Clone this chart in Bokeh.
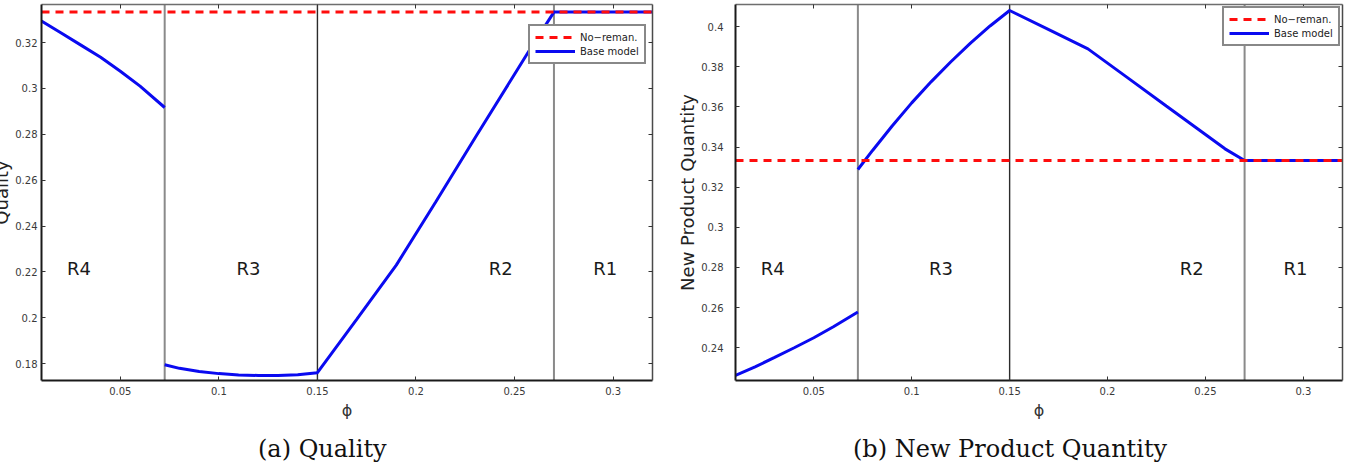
from bokeh.plotting import figure
from bokeh.models import (Range1d, FixedTicker, LinearAxis, Span, Legend,
                          LegendItem, Div)
from bokeh.layouts import row, column
from bokeh.core.properties import value
from bokeh.embed import file_html
from bokeh.resources import INLINE

# ---- data -------------------------------------------------------------
# phi grid, one list per regime (R4 | R3 | R2 | R1)
phi_r4 = [0.01, 0.02, 0.03, 0.04, 0.05, 0.06, 0.0725]
phi_r3 = [0.0725, 0.08, 0.09, 0.10, 0.11, 0.12, 0.13, 0.14, 0.15]
phi_r2 = [0.15, 0.17, 0.19, 0.21, 0.23, 0.25, 0.26, 0.27]
phi_r1 = [0.27, 0.32]

# optimal quality, base model
quality_r4 = [0.3294, 0.3242, 0.3189, 0.3136, 0.3075, 0.3010, 0.2917]
quality_r3 = [0.1796, 0.1780, 0.1766, 0.1757, 0.1751, 0.1749, 0.1749, 0.1752, 0.1761]
quality_r2 = [0.1761, 0.1995, 0.2230, 0.2505, 0.2785, 0.3062, 0.3200, 0.3333]
quality_r1 = [0.3333, 0.3333]

# new product quantity, base model
newqty_r4 = [0.2262, 0.2305, 0.2352, 0.2400, 0.2450, 0.2505, 0.2578]
newqty_r3 = [0.3288, 0.3383, 0.3505, 0.3620, 0.3726, 0.3825, 0.3918, 0.4003, 0.4080]
newqty_r2 = [0.4080, 0.3985, 0.3889, 0.3747, 0.3604, 0.3462, 0.3391, 0.3333]
newqty_r1 = [0.3333, 0.3333]

# no-remanufacturing benchmark (constant in phi)
phi_noreman = [0.01, 0.32]
quality_noreman = [0.3333, 0.3333]
newqty_noreman = [0.3333, 0.3333]

# regime thresholds and labels
thresholds = [0.0725, 0.15, 0.27]
threshold_colors = ["#8a8a8a", "#2b2b2b", "#8a8a8a"]
threshold_widths = [2, 1.4, 2]
regime_names = ["R4", "R3", "R2", "R1"]
regime_label_x = [0.029, 0.115, 0.243, 0.296]

x_ticks = [0.05, 0.10, 0.15, 0.20, 0.25, 0.30]
x_tick_labels = ["0.05", "0.1", "0.15", "0.2", "0.25", "0.3"]
quality_ticks = [0.18, 0.20, 0.22, 0.24, 0.26, 0.28, 0.30, 0.32]
quality_tick_labels = ["0.18", "0.2", "0.22", "0.24", "0.26", "0.28", "0.3", "0.32"]
newqty_ticks = [0.24, 0.26, 0.28, 0.30, 0.32, 0.34, 0.36, 0.38, 0.40]
newqty_tick_labels = ["0.24", "0.26", "0.28", "0.3", "0.32", "0.34", "0.36", "0.38", "0.4"]

SANS = "DejaVu Sans"
SERIF = "DejaVu Serif"
BLUE = "#0a0af0"
RED = "#ff0d0d"
FIG_W, FIG_H, CAP_H = 674, 436, 26
BLEED = 14  # the left panel's y title runs past the page edge by this much


def joined(*parts):
    """Concatenate regime segments, breaking the line at the jump after R4."""
    xs, ys = [], []
    for i, (px, py) in enumerate(parts):
        if i == 1:
            xs.append(float("nan"))
            ys.append(float("nan"))
        xs.extend(px)
        ys.extend(py)
    return xs, ys


def style_axis(ax, ticks, labels, show_labels, line_color, line_width, standoff):
    ax.ticker = FixedTicker(ticks=ticks)
    ax.major_label_overrides = dict(zip(ticks, labels))
    ax.major_tick_in = 4
    ax.major_tick_out = 0
    ax.minor_tick_in = 0
    ax.minor_tick_out = 0
    ax.major_tick_line_color = "#333333"
    ax.major_tick_line_width = 1
    ax.axis_line_color = line_color
    ax.axis_line_width = line_width
    ax.major_label_text_font = SANS
    ax.major_label_text_font_size = "10px"
    if show_labels:
        ax.major_label_text_color = "#3a3a3a"
        ax.major_label_standoff = standoff
    else:
        ax.major_label_text_color = None
        ax.major_label_standoff = 0


def panel(y_range, y_ticks, y_labels, base_xy, noreman_y, region_y,
          border_left, ylabel, legend_y, bleed=0):
    p = figure(width=FIG_W + bleed, height=FIG_H, output_backend="svg",
               toolbar_location=None,
               x_range=Range1d(0.01, 0.32), y_range=Range1d(*y_range),
               min_border_left=border_left + bleed,
               min_border_right=FIG_W - border_left - 611,
               min_border_top=4, min_border_bottom=FIG_H - 380,
               background_fill_color="white", border_fill_color="white",
               margin=(0, 0, 0, -bleed))
    p.outline_line_color = None
    p.xgrid.visible = False
    p.ygrid.visible = False

    # frame: bottom/left axes carry labels, top/right only inward ticks
    style_axis(p.xaxis[0], x_ticks, x_tick_labels, True, "#1a1a1a", 2, 6)
    p.xaxis[0].axis_label = "\u03d5"
    p.xaxis[0].axis_label_text_font = SANS
    p.xaxis[0].axis_label_text_font_style = "normal"
    p.xaxis[0].axis_label_text_font_size = "16px"
    p.xaxis[0].axis_label_text_color = "#333333"
    p.xaxis[0].axis_label_standoff = 3

    text, size, label_standoff, title_standoff = ylabel
    style_axis(p.yaxis[0], y_ticks, y_labels, True, "#1a1a1a", 2, label_standoff)
    p.yaxis[0].axis_label = text
    p.yaxis[0].axis_label_text_font = SANS
    p.yaxis[0].axis_label_text_font_style = "normal"
    p.yaxis[0].axis_label_text_font_size = size
    p.yaxis[0].axis_label_text_color = "#222222"
    p.yaxis[0].axis_label_standoff = title_standoff

    top = LinearAxis()
    style_axis(top, x_ticks, x_tick_labels, False, "#6e6e6e", 1.5, 0)
    p.add_layout(top, "above")
    right = LinearAxis()
    style_axis(right, y_ticks, y_labels, False, "#4a4a4a", 1.5, 0)
    p.add_layout(right, "right")

    # regime boundaries
    for loc, col, w in zip(thresholds, threshold_colors, threshold_widths):
        p.add_layout(Span(location=loc, dimension="height", line_color=col,
                          line_width=w, level="underlay"))

    xs, ys = base_xy
    base = p.line(xs, ys, line_color=BLUE, line_width=3)
    noreman = p.line(phi_noreman, noreman_y, line_color=RED, line_width=3,
                     line_dash="8 6")

    p.text(x=regime_label_x, y=[region_y] * 4, text=regime_names,
           text_font=value(SANS), text_font_size="18px", text_color="#1a1a1a",
           text_align="center", text_baseline="middle")

    legend = Legend(items=[LegendItem(label="No\u2212reman.", renderers=[noreman]),
                           LegendItem(label="Base model", renderers=[base])],
                    location=(487, legend_y), orientation="vertical",
                    label_text_font=SANS, label_text_font_size="10px",
                    label_text_color="#222222", label_standoff=5,
                    glyph_width=40, glyph_height=12, label_height=12,
                    padding=5, spacing=2, margin=0,
                    border_line_color="#111111", border_line_width=2,
                    background_fill_color="white", background_fill_alpha=1)
    p.add_layout(legend)
    return p


def caption(text, left):
    html = ('<div style="margin-left:%dpx; white-space:nowrap; font-family:\'DejaVu Serif\';'
            ' font-size:24px; line-height:%dpx; color:#111111;">%s</div>') % (left, CAP_H, text)
    return Div(text=html, width=FIG_W, height=CAP_H, margin=0)


p1 = panel((0.1727, 0.3366), quality_ticks, quality_tick_labels,
           joined((phi_r4, quality_r4), (phi_r3 + phi_r2[1:] + phi_r1[1:],
                                         quality_r3 + quality_r2[1:] + quality_r1[1:])),
           quality_noreman, 0.2215, 41, ("Quality", "18px", 4, 0), 316, bleed=BLEED)

p2 = panel((0.2237, 0.4110), newqty_ticks, newqty_tick_labels,
           joined((phi_r4, newqty_r4), (phi_r3 + phi_r2[1:] + phi_r1[1:],
                                        newqty_r3 + newqty_r2[1:] + newqty_r1[1:])),
           newqty_noreman, 0.2795, 57, ("New Product Quantity", "18px", 12, 0), 334)

layout = column(row(p1, p2, spacing=0),
                row(caption("(a) Quality", 258), caption("(b) New Product Quantity", 853 - FIG_W),
                    spacing=0),
                spacing=0)

with open("out.html", "w") as f:
    f.write(file_html(layout, INLINE, title="Quality and new product quantity"))
